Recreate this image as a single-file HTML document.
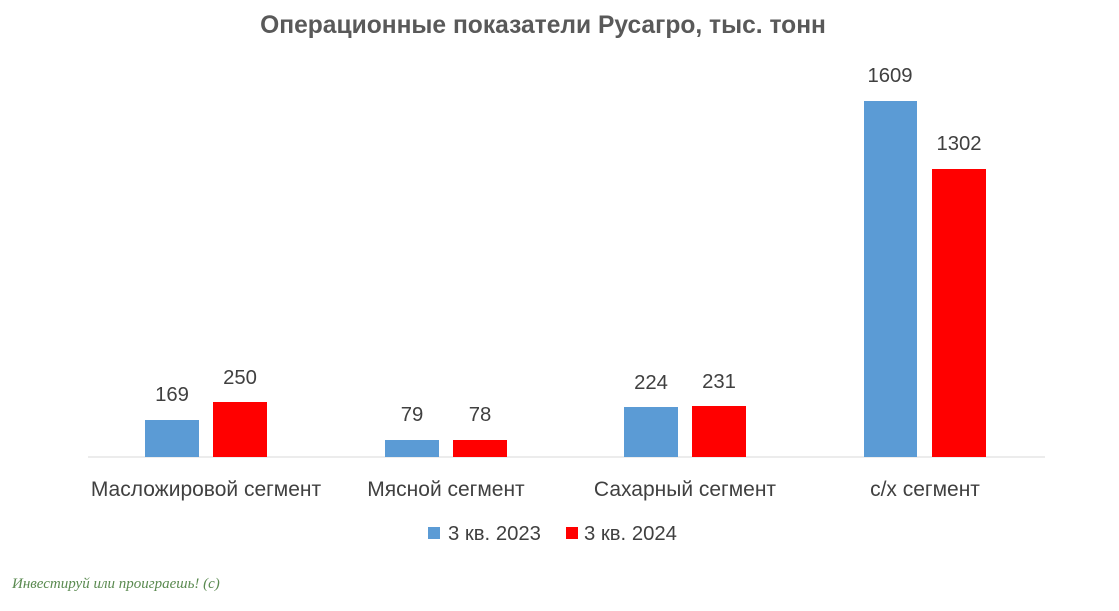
<!DOCTYPE html>
<html><head><meta charset="utf-8"><style>
body{margin:0;background:#fff;}
svg text{font-family:"Liberation Sans",sans-serif;}
</style></head><body>
<svg width="1119" height="606" xmlns="http://www.w3.org/2000/svg">
<rect width="1119" height="606" fill="#fff"/>
<text x="543" y="33" text-anchor="middle" font-size="24.6" font-weight="bold" fill="#595959">Операционные показатели Русагро, тыс. тонн</text>
<line x1="88" y1="457" x2="1045" y2="457" stroke="#d9d9d9" stroke-width="1"/>
<g fill="#5b9bd5">
<rect x="145" y="420" width="54" height="37"/>
<rect x="385" y="440" width="54" height="17"/>
<rect x="624" y="407" width="54" height="50"/>
<rect x="864" y="101" width="53" height="356"/>
</g>
<g fill="#ff0000">
<rect x="213" y="402" width="54" height="55"/>
<rect x="453" y="440" width="54" height="17"/>
<rect x="692" y="406" width="54" height="51"/>
<rect x="932" y="169" width="54" height="288"/>
</g>
<g font-size="20.3" fill="#404040" text-anchor="middle">
<text x="172" y="401">169</text><text x="240" y="384">250</text>
<text x="412" y="421">79</text><text x="480" y="421">78</text>
<text x="651" y="389">224</text><text x="719" y="388">231</text>
<text x="890" y="82">1609</text><text x="959" y="150">1302</text>
</g>
<g font-size="21" fill="#404040" text-anchor="middle">
<text x="206" y="496">Масложировой сегмент</text>
<text x="446" y="496">Мясной сегмент</text>
<text x="685" y="496">Сахарный сегмент</text>
<text x="925" y="496">с/х сегмент</text>
</g>
<rect x="428" y="527" width="12" height="12" fill="#5b9bd5"/>
<text x="448" y="540" font-size="20.3" fill="#404040">3 кв. 2023</text>
<rect x="566" y="527" width="12" height="12" fill="#ff0000"/>
<text x="584" y="540" font-size="20.3" fill="#404040">3 кв. 2024</text>
<text x="12" y="588" font-size="15" font-style="italic" fill="#5a8a50" style="font-family:'Liberation Serif',serif">Инвестируй или проиграешь! (с)</text>
</svg>
</body></html>
